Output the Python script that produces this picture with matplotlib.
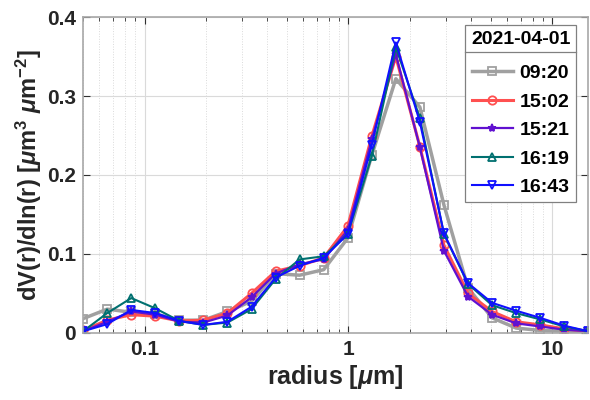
import matplotlib
matplotlib.use("Agg")
import matplotlib.pyplot as plt
from matplotlib.ticker import LogLocator, NullFormatter, FixedLocator, FixedFormatter

plt.rcParams["font.family"] = ["Liberation Sans", "DejaVu Sans"]
plt.rcParams["font.weight"] = "bold"
plt.rcParams["mathtext.fontset"] = "custom"
plt.rcParams["mathtext.rm"] = "Liberation Sans:bold"
plt.rcParams["mathtext.it"] = "Liberation Sans:italic:bold"

# AERONET radius bins [um]
radius = [0.05, 0.065604, 0.086077, 0.112939, 0.148184, 0.194429, 0.255105,
          0.334716, 0.439173, 0.576227, 0.756052, 0.991996, 1.301571, 1.707757,
          2.240702, 2.939966, 3.857452, 5.06126, 6.640745, 8.713145, 11.432287, 15.0]

times = ["09:20", "15:02", "15:21", "16:19", "16:43"]

v0920 = [0.018, 0.030, 0.026, 0.024, 0.016, 0.016, 0.027, 0.040, 0.075, 0.073, 0.080,
         0.120, 0.225, 0.322, 0.286, 0.162, 0.057, 0.019, 0.006, 0.003, 0.002, 0.001]
v1502 = [0.003, 0.016, 0.023, 0.021, 0.015, 0.016, 0.025, 0.050, 0.078, 0.085, 0.095,
         0.135, 0.249, 0.350, 0.236, 0.111, 0.050, 0.027, 0.014, 0.010, 0.005, 0.002]
v1521 = [0.002, 0.014, 0.027, 0.023, 0.014, 0.013, 0.022, 0.045, 0.075, 0.087, 0.093,
         0.130, 0.245, 0.353, 0.235, 0.104, 0.046, 0.023, 0.012, 0.008, 0.004, 0.002]
v1619 = [0.002, 0.025, 0.044, 0.031, 0.015, 0.010, 0.013, 0.030, 0.068, 0.093, 0.097,
         0.125, 0.224, 0.362, 0.272, 0.125, 0.062, 0.035, 0.025, 0.017, 0.008, 0.002]
v1643 = [0.002, 0.011, 0.029, 0.025, 0.015, 0.010, 0.014, 0.033, 0.070, 0.085, 0.095,
         0.125, 0.238, 0.368, 0.267, 0.126, 0.063, 0.038, 0.028, 0.019, 0.009, 0.002]

series = [v0920, v1502, v1521, v1619, v1643]
colors = ["#A0A0A0", "#FF5050", "#6010D0", "#007070", "#1010FF"]
markers = ["s", "o", "*", "^", "v"]
widths = [2.5, 2.2, 1.6, 1.5, 1.5]

fig, ax = plt.subplots(figsize=(5.9, 4.0), dpi=100)
fig.subplots_adjust(left=0.141, right=0.997, top=0.957, bottom=0.168)

for vals, t, c, m, lw in zip(series, times, colors, markers, widths):
    ax.plot(radius, vals, color=c, marker=m, lw=lw, ms=6, mfc="none" if m != "*" else c,
            mew=1.3, label=t)

ax.set_xscale("log")
ax.set_xlim(0.05, 15)
ax.set_ylim(0, 0.4)
ax.xaxis.set_major_locator(FixedLocator([0.1, 1, 10]))
ax.xaxis.set_major_formatter(FixedFormatter(["0.1", "1", "10"]))
ax.xaxis.set_minor_locator(LogLocator(base=10, subs=range(2, 10)))
ax.xaxis.set_minor_formatter(NullFormatter())
ax.set_yticks([0, 0.1, 0.2, 0.3, 0.4])
ax.set_yticklabels(["0", "0.1", "0.2", "0.3", "0.4"])

ax.grid(True, which="major", color="#DADADA", lw=0.8)
ax.grid(True, which="minor", color="#DADADA", lw=0.7, ls=":")
ax.set_axisbelow(True)
for s in ax.spines.values():
    s.set_color("#A8A8A8")
    s.set_linewidth(1.2)
ax.tick_params(which="both", direction="in", top=True, right=True, color="#303030",
               labelsize=15, labelcolor="#262626", pad=5)
ax.tick_params(which="major", length=5)
ax.tick_params(which="minor", length=3)

ax.set_xlabel(r"radius [$\mu$m]", fontsize=18, fontweight="bold", color="#262626", labelpad=3)
ax.set_ylabel(r"dV(r)/dln(r) [$\mu$m$^3$ $\mu$m$^{-2}$]", fontsize=17, fontweight="bold",
              color="#262626", labelpad=2)

leg = ax.legend(title="2021-04-01", loc="upper right", bbox_to_anchor=(0.976, 0.975),
                borderaxespad=0, fontsize=14, fancybox=False,
                edgecolor="#808080", framealpha=1, borderpad=0.3,
                handlelength=2.1, handletextpad=0.35, labelspacing=0.56,
                title_fontproperties={"weight": "bold", "size": 14})
leg.get_frame().set_linewidth(0.9)
leg._legend_box.sep = 12

# separator line under the legend title
fig.canvas.draw()
fb = leg.get_frame().get_window_extent()
tb = leg.get_title().get_window_extent()
ysep = tb.y0 - 4
inv = fig.transFigure.inverted()
(x0, y0), (x1, _) = inv.transform([(fb.x0, ysep), (fb.x1, ysep)])
fig.add_artist(plt.Line2D([x0, x1], [y0, y0], color="#808080", lw=0.9))

fig.savefig("out.png", dpi=100)
